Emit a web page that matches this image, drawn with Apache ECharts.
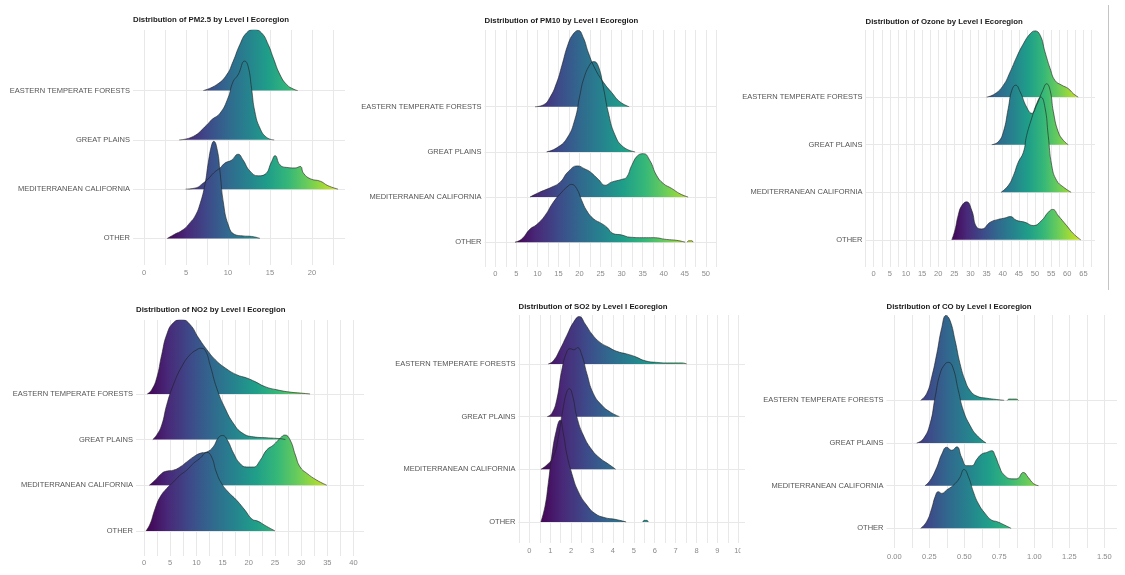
<!DOCTYPE html>
<html>
<head>
<meta charset="utf-8">
<script src="https://cdn.jsdelivr.net/npm/echarts@6/dist/echarts.min.js"></script>
<style>
  html, body { margin: 0; padding: 0; background: #ffffff; }
  #chart { width: 1125px; height: 575px; }
</style>
</head>
<body>
<div id="chart"></div>
<script>
// Ridge rows, bottom to top (row 1 = OTHER)
const REGIONS = ['OTHER', 'MEDITERRANEAN CALIFORNIA', 'GREAT PLAINS', 'EASTERN TEMPERATE FORESTS'];

const TITLES = [
  'Distribution of PM2.5 by Level I Ecoregion',
  'Distribution of PM10 by Level I Ecoregion',
  'Distribution of Ozone by Level I Ecoregion',
  'Distribution of NO2 by Level I Ecoregion',
  'Distribution of SO2 by Level I Ecoregion',
  'Distribution of CO by Level I Ecoregion'
];

// x-axis tick labels of each panel
const PM25_TICKS = [0, 5, 10, 15, 20];
const PM10_TICKS = [0, 5, 10, 15, 20, 25, 30, 35, 40, 45, 50];
const OZONE_TICKS = [0, 5, 10, 15, 20, 25, 30, 35, 40, 45, 50, 55, 60, 65];
const NO2_TICKS = [0, 5, 10, 15, 20, 25, 30, 35, 40];
const SO2_TICKS = [0, 1, 2, 3, 4, 5, 6, 7, 8, 9, 10];
const CO_TICKS = [0, 0.25, 0.5, 0.75, 1.0, 1.25, 1.5];

// Ridge profiles: [concentration, scaled density height in row units]; null = gap
const PM25_EASTERN = [[7.06,0],[8.65,0.12],[9.84,0.32],[10.6,0.59],[11.4,0.93],[12.2,1.17],[13.1,1.24],[14.0,1.17],[14.8,0.93],[15.4,0.66],[16.2,0.32],[17.0,0.12],[17.8,0.03],[18.3,0]];
const PM25_PLAINS = [[4.2,0],[5.87,0.07],[7.46,0.30],[8.06,0.41],[9.05,0.54],[10.0,0.85],[10.6,1.18],[11.2,1.32],[12.0,1.60],[12.4,1.49],[12.8,1.05],[13.2,0.57],[13.8,0.24],[14.6,0.05],[15.5,0]];
const PM25_MEDCAL = [[4.96,0],[6.27,0.03],[6.87,0.10],[7.6,0.2],[8.3,0.33],[9.05,0.43],[9.64,0.53],[10.44,0.59],[11.2,0.71],[11.8,0.59],[12.6,0.37],[13.6,0.27],[14.4,0.30],[15.2,0.56],[15.6,0.68],[16.2,0.49],[17.0,0.44],[18.0,0.43],[18.6,0.46],[19.0,0.32],[19.8,0.21],[21.0,0.16],[21.9,0.07],[23.1,0]];
const PM25_OTHER = [[2.78,0],[3.49,0.07],[4.68,0.18],[5.48,0.32],[6.07,0.45],[6.67,0.70],[7.26,1.10],[7.66,1.55],[8.06,1.90],[8.3,1.97],[8.73,1.79],[9.05,1.35],[9.44,0.74],[10.04,0.27],[10.8,0.08],[11.8,0.05],[12.8,0.04],[13.8,0]];

const PM10_EASTERN = [[9.43,0],[11.4,0.04],[13.0,0.21],[14.6,0.54],[15.8,0.91],[17.3,1.39],[18.5,1.61],[19.7,1.69],[20.9,1.53],[22.1,1.20],[23.7,0.84],[25.7,0.54],[27.6,0.32],[29.6,0.11],[31.8,0]];
const PM10_PLAINS = [[12.2,0],[14.6,0.09],[17.0,0.30],[18.9,0.72],[20.1,1.26],[21.0,1.62],[22.5,1.94],[23.4,2.0],[24.5,1.89],[25.7,1.41],[26.8,0.89],[28.4,0.38],[30.4,0.11],[33.2,0]];
const PM10_MEDCAL = [[8.24,0],[10.6,0.11],[13.4,0.22],[15.4,0.33],[17.3,0.56],[19.5,0.69],[21.3,0.62],[22.5,0.56],[24.5,0.39],[26.1,0.26],[27.6,0.33],[30.0,0.39],[31.2,0.44],[32.4,0.70],[34.0,0.93],[35.2,0.96],[36.7,0.81],[38.3,0.48],[39.9,0.30],[41.9,0.19],[43.9,0.07],[45.8,0]];
const PM10_OTHER = [[4.68,0],[6.27,0.07],[8.24,0.29],[9.83,0.39],[11.8,0.59],[13.8,0.89],[15.8,1.11],[17.0,1.22],[18.1,1.28],[19.3,1.19],[20.5,0.93],[21.7,0.70],[23.3,0.52],[25.3,0.41],[26.5,0.33],[28.0,0.19],[30.0,0.16],[32.0,0.11],[35.2,0.10],[37.5,0.10],[40.7,0.06],[43.1,0.04],[45.1,0],null,[45.6,0],[45.9,0.03],[46.7,0.03],[47.0,0]];

const OZONE_EASTERN = [[35.0,0],[37.6,0.07],[40.2,0.25],[42.3,0.53],[44.3,0.84],[46.4,1.12],[48.5,1.33],[50.0,1.39],[51.6,1.30],[53.1,0.95],[54.7,0.60],[56.2,0.35],[58.3,0.25],[60.3,0.18],[61.9,0.07],[63.4,0]];
const OZONE_PLAINS = [[36.6,0],[38.6,0.06],[40.2,0.27],[41.7,0.76],[42.8,1.14],[44.0,1.25],[45.4,1.11],[47.4,0.79],[49.0,0.66],[50.5,0.83],[52.4,1.14],[53.6,1.28],[54.7,1.14],[55.7,0.69],[57.2,0.27],[58.8,0.09],[60.3,0]];
const OZONE_MEDCAL = [[39.5,0],[41.7,0.14],[43.3,0.35],[44.8,0.63],[46.4,0.84],[47.4,1.19],[49.0,1.56],[50.5,1.86],[51.8,2.0],[53.1,1.78],[54.1,1.19],[55.2,0.56],[56.7,0.25],[58.8,0.11],[61.2,0]];
const OZONE_OTHER = [[24.2,0],[25.2,0.21],[26.2,0.52],[27.3,0.72],[28.8,0.80],[30.4,0.62],[31.9,0.27],[33.5,0.23],[36.1,0.37],[38.6,0.43],[40.7,0.46],[42.3,0.49],[44.3,0.41],[46.9,0.37],[49.5,0.30],[52.1,0.41],[54.1,0.58],[55.5,0.64],[57.2,0.51],[59.8,0.30],[61.9,0.13],[64.2,0]];

const NO2_EASTERN = [[0.64,0],[1.46,0.09],[2.42,0.35],[3.38,0.86],[4.33,1.30],[5.6,1.56],[7.2,1.63],[8.79,1.52],[10.4,1.23],[12.0,0.97],[13.6,0.75],[15.5,0.57],[17.7,0.42],[19.6,0.35],[21.2,0.27],[23.1,0.16],[25.4,0.09],[27.9,0.04],[29.8,0.02],[31.7,0]];
const NO2_PLAINS = [[1.66,0],[2.42,0.10],[3.38,0.32],[4.33,0.76],[5.6,1.20],[7.2,1.60],[8.79,1.86],[10.1,1.97],[10.8,2.0],[11.7,1.95],[12.6,1.64],[13.9,1.12],[15.5,0.68],[17.1,0.35],[18.7,0.15],[20.9,0.06],[23.4,0.04],[26.0,0.02],[27.0,0]];
const NO2_MEDCAL = [[1.02,0],[2.1,0.11],[3.38,0.26],[4.33,0.31],[5.6,0.33],[6.88,0.40],[8.15,0.51],[9.43,0.62],[10.7,0.70],[12.0,0.73],[13.2,0.84],[14.2,1.04],[15.0,1.09],[15.9,0.99],[17.1,0.70],[18.3,0.48],[19.6,0.40],[20.9,0.40],[22.2,0.55],[23.4,0.77],[24.7,0.88],[26.0,1.03],[26.9,1.10],[27.9,0.99],[28.9,0.66],[29.8,0.40],[31.1,0.26],[33.0,0.11],[34.9,0]];
const NO2_OTHER = [[0.38,0],[1.15,0.15],[2.1,0.48],[3.06,0.74],[4.33,0.93],[5.6,1.07],[6.88,1.22],[8.15,1.33],[9.43,1.48],[10.7,1.59],[12.0,1.72],[12.9,1.62],[13.8,1.29],[14.8,1.04],[16.1,0.85],[17.7,0.67],[19.3,0.45],[20.6,0.26],[21.8,0.21],[23.1,0.12],[25.0,0]];

const SO2_EASTERN = [[0.91,0],[1.15,0.06],[1.47,0.28],[1.79,0.54],[2.11,0.79],[2.39,0.90],[2.67,0.76],[2.99,0.57],[3.38,0.41],[3.78,0.32],[4.18,0.24],[4.66,0.19],[5.06,0.14],[5.54,0.06],[6.10,0.03],[6.73,0.02],[7.3,0.02],[7.53,0]];
const SO2_PLAINS = [[0.86,0],[1.07,0.06],[1.31,0.32],[1.55,0.88],[1.79,1.23],[1.95,1.29],[2.14,1.27],[2.30,1.31],[2.51,1.17],[2.75,0.82],[3.06,0.44],[3.46,0.22],[3.86,0.09],[4.31,0]];
const SO2_MEDCAL = [[0.55,0],[0.83,0.08],[1.15,0.24],[1.39,0.62],[1.63,1.19],[1.79,1.47],[1.91,1.53],[2.08,1.38],[2.27,1.0],[2.58,0.65],[2.99,0.37],[3.38,0.21],[3.78,0.10],[4.13,0]];
const SO2_OTHER = [[0.55,0],[0.75,0.30],[0.91,0.75],[1.07,1.25],[1.28,1.72],[1.47,1.93],[1.63,1.67],[1.79,1.29],[2.03,0.92],[2.35,0.57],[2.75,0.32],[3.14,0.16],[3.62,0.08],[4.10,0.05],[4.63,0],null,[5.43,0],[5.5,0.03],[5.62,0.03],[5.69,0]];

const CO_EASTERN = [[0.188,0],[0.231,0.16],[0.267,0.55],[0.303,1.09],[0.339,1.71],[0.369,1.99],[0.398,1.87],[0.434,1.40],[0.469,0.86],[0.505,0.47],[0.541,0.23],[0.589,0.10],[0.66,0.05],[0.731,0.02],[0.784,0],null,[0.807,0],[0.82,0.03],[0.87,0.03],[0.886,0]];
const CO_PLAINS = [[0.16,0],[0.207,0.10],[0.255,0.45],[0.291,1.07],[0.326,1.62],[0.362,1.85],[0.386,1.89],[0.417,1.78],[0.457,1.23],[0.493,0.76],[0.541,0.41],[0.589,0.18],[0.655,0]];
const CO_MEDCAL = [[0.219,0],[0.255,0.12],[0.303,0.43],[0.339,0.74],[0.374,0.90],[0.41,0.83],[0.446,0.91],[0.481,0.66],[0.517,0.47],[0.553,0.47],[0.589,0.62],[0.624,0.74],[0.66,0.78],[0.696,0.82],[0.72,0.70],[0.75,0.45],[0.779,0.27],[0.839,0.16],[0.874,0.16],[0.921,0.31],[0.957,0.19],[0.993,0.05],[1.029,0]];
const CO_OTHER = [[0.188,0],[0.231,0.16],[0.267,0.47],[0.291,0.74],[0.314,0.86],[0.339,0.82],[0.374,0.90],[0.421,1.01],[0.464,1.17],[0.498,1.38],[0.529,1.21],[0.564,0.86],[0.6,0.58],[0.648,0.35],[0.696,0.19],[0.731,0.16],[0.779,0.09],[0.834,0]];

// Panel contents (ridges listed top row first, so lower rows paint over upper ones)
const PANEL_DATA = [
  { ticks: PM25_TICKS,  ridges: [PM25_EASTERN, PM25_PLAINS, PM25_MEDCAL, PM25_OTHER] },
  { ticks: PM10_TICKS,  ridges: [PM10_EASTERN, PM10_PLAINS, PM10_MEDCAL, PM10_OTHER] },
  { ticks: OZONE_TICKS, ridges: [OZONE_EASTERN, OZONE_PLAINS, OZONE_MEDCAL, OZONE_OTHER] },
  { ticks: NO2_TICKS,   ridges: [NO2_EASTERN, NO2_PLAINS, NO2_MEDCAL, NO2_OTHER] },
  { ticks: SO2_TICKS,   ridges: [SO2_EASTERN, SO2_PLAINS, SO2_MEDCAL, SO2_OTHER] },
  { ticks: CO_TICKS,    ridges: [CO_EASTERN, CO_PLAINS, CO_MEDCAL, CO_OTHER] }
];

// Layout of the six panels (pixels) and their axis/colour ranges
const LAYOUT = [
  { left: 133,   right: 345,  top: 30,  bottom: 265, xMin: -1.31, xMax: 23.93, yMin: 0.46, yMax: 5.23, titleY: 21,    labelMargin: 4, cMin: 2.6,   cMax: 24.5, decimals: 0 },
  { left: 484.5, right: 717,  top: 30,  bottom: 267, xMin: -2.57, xMax: 52.66, yMin: 0.45, yMax: 5.70, titleY: 22,    labelMargin: 3, cMin: 4.5,   cMax: 51,   decimals: 0 },
  { left: 865.5, right: 1095, top: 30,  bottom: 267, xMin: -2.54, xMax: 68.6,  yMin: 0.43, yMax: 5.41, titleY: 22.5,  labelMargin: 3, cMin: 24,    cMax: 67,   decimals: 0 },
  { left: 136,   right: 364,  top: 320, bottom: 556, xMin: -1.53, xMax: 42.0,  yMin: 0.45, yMax: 5.62, titleY: 311,   labelMargin: 3, cMin: 0.3,   cMax: 38,   decimals: 0 },
  { left: 518.5, right: 745,  top: 315, bottom: 543, xMin: -0.52, xMax: 10.32, yMin: 0.60, yMax: 4.93, titleY: 307.5, labelMargin: 4, cMin: 0.45,  cMax: 10.5, decimals: 0 },
  { left: 886.5, right: 1117, top: 315, bottom: 548, xMin: -0.056, xMax: 1.59, yMin: 0.54, yMax: 6.0, titleY: 307.5, labelMargin: 5, cMin: -0.05, cMax: 1.25, decimals: 2 }
];

const VIRIDIS = ['#440154', '#482878', '#3e4989', '#31688e', '#26828e', '#1f9e89', '#35b779', '#6ece58', '#b5de2b', '#fde725'];
const FONT = '"Liberation Sans", Arial, sans-serif';
const ROWS = [1, 2, 3, 4];

// Gridlines every half tick step across the visible range
function gridValues(ticks, min, max) {
  const half = (ticks[1] - ticks[0]) / 2;
  const out = [];
  for (let k = Math.ceil(min / half); k * half <= max; k++) out.push(+(k * half).toFixed(6));
  return out;
}

function ridgeSeriesData(points, row) {
  return points.map(p => p === null ? ['-', '-'] : [p[0], row + p[1]]);
}

const grid = [], xAxis = [], yAxis = [], series = [], title = [], visualMap = [];

PANEL_DATA.forEach((panel, i) => {
  const L = LAYOUT[i];
  grid.push({ left: L.left, top: L.top, width: L.right - L.left, height: L.bottom - L.top, containLabel: false });
  title.push({
    text: TITLES[i], left: L.left, top: L.titleY - 5, padding: 0,
    textStyle: { fontFamily: FONT, fontSize: 7.8, fontWeight: 'bold', color: '#1a1a1a' }
  });
  xAxis.push({
    type: 'value', gridIndex: i, min: L.xMin, max: L.xMax,
    axisLine: { show: false },
    axisTick: { show: false, customValues: gridValues(panel.ticks, L.xMin, L.xMax) },
    axisLabel: {
      customValues: panel.ticks, margin: L.labelMargin, fontFamily: FONT, fontSize: 7.5, color: '#8a8a8a',
      formatter: v => v.toFixed(L.decimals)
    },
    splitLine: { show: true, lineStyle: { color: '#e8e8e8', width: 1 } }
  });
  yAxis.push({
    type: 'value', gridIndex: i, min: L.yMin, max: L.yMax,
    axisLine: { show: false },
    axisTick: { show: false, customValues: ROWS },
    axisLabel: {
      customValues: ROWS, margin: 3, fontFamily: FONT, fontSize: 7.5, color: '#555555',
      formatter: v => REGIONS[Math.round(v) - 1]
    },
    splitLine: { show: true, lineStyle: { color: '#e8e8e8', width: 1 } }
  });
  const idx = [];
  panel.ridges.forEach((pts, r) => {
    const row = 4 - r;
    idx.push(series.length);
    series.push({
      type: 'line', xAxisIndex: i, yAxisIndex: i,
      data: ridgeSeriesData(pts, row),
      smooth: 0.5, showSymbol: false, connectNulls: false,
      lineStyle: { color: '#1e1e1e', width: 0.6 },
      areaStyle: { origin: row, opacity: 1 },
      silent: true
    });
  });
  visualMap.push({
    type: 'continuous', show: false, dimension: 0, seriesIndex: idx,
    min: L.cMin, max: L.cMax, inRange: { color: VIRIDIS }
  });
});

const chart = echarts.init(document.getElementById('chart'), null, { renderer: 'canvas' });
chart.setOption({
  animation: false,
  backgroundColor: '#ffffff',
  title, grid, xAxis, yAxis, series, visualMap,
  graphic: [
    { type: 'line', shape: { x1: 1108.5, y1: 5, x2: 1108.5, y2: 290 }, style: { stroke: '#c4c4c4', lineWidth: 1 }, z: 50 },
    { type: 'rect', shape: { x: 740.5, y: 545, width: 12, height: 16 }, style: { fill: '#ffffff' }, z: 50 }
  ]
});
</script>
</body>
</html>
